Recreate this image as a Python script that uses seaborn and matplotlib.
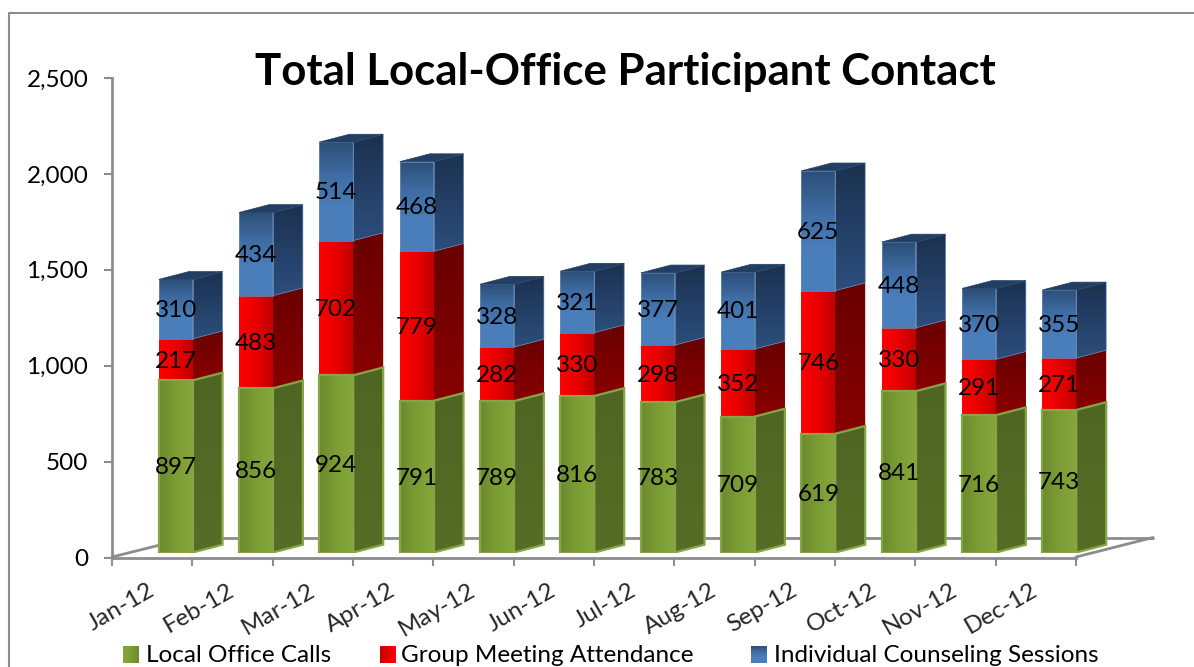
import numpy as np
import matplotlib
matplotlib.use('Agg')
import matplotlib.pyplot as plt
from matplotlib.colors import to_rgb
from matplotlib.lines import Line2D
from matplotlib.patches import Polygon, Rectangle
from matplotlib.transforms import ScaledTranslation
import seaborn as sns

months = ['Jan-12', 'Feb-12', 'Mar-12', 'Apr-12', 'May-12', 'Jun-12',
          'Jul-12', 'Aug-12', 'Sep-12', 'Oct-12', 'Nov-12', 'Dec-12']
calls = [897, 856, 924, 791, 789, 816, 783, 709, 619, 841, 716, 743]
meetings = [217, 483, 702, 779, 282, 330, 298, 352, 746, 330, 291, 271]
counseling = [310, 434, 514, 468, 328, 321, 377, 401, 625, 448, 370, 355]
series_names = ['Local Office Calls', 'Group Meeting Attendance', 'Individual Counseling Sessions']
yticks = [0, 500, 1000, 1500, 2000, 2500]

W, H = 1194, 667
GREY = '#8c8c8c'

sns.set_style('white')
plt.rcParams['font.family'] = ['Lato', 'DejaVu Sans']

fig = plt.figure(figsize=(W / 100, H / 100), dpi=100)


def px_box(x0, y0, x1, y1):
    # pixel box, y from the top of the picture
    return [x0 / W, 1 - y1 / H, (x1 - x0) / W, (y1 - y0) / H]


ax = fig.add_axes(px_box(112, 78, 1076, 557.5), zorder=0)
ax.set_xlim(-0.5, 11.5)
ax.set_ylim(0, 2500)
sns.despine(ax=ax)
for s in ['left', 'bottom']:
    ax.spines[s].set_color(GREY)
    ax.spines[s].set_linewidth(2)
ax.set_yticks(yticks)
ax.set_yticklabels([f'{v:,}' for v in yticks], fontsize=17.5, color='black')
ax.tick_params(axis='y', length=6, width=1.5, color=GREY, pad=11, left=True)
ax.set_xticks(np.arange(-0.5, 12, 1))
ax.set_xticklabels([])
ax.tick_params(axis='x', which='major', length=6, width=1.5, color=GREY, bottom=True)
ax.set_xticks(np.arange(12), minor=True)
ax.set_xticklabels(months, minor=True, rotation=30, ha='right', va='top',
                   rotation_mode='anchor', fontsize=17.5)
ax.tick_params(axis='x', which='minor', length=0, pad=16)
shift = ScaledTranslation(-5 / 100, 0, fig.dpi_scale_trans)
for lab in ax.get_xticklabels(minor=True):
    lab.set_transform(lab.get_transform() + shift)

# floor of the 3d box
for pts in [[(112, 557), (190, 537.5)], [(190, 537.5), (1153, 537.5)], [(1076, 557), (1153, 537.5)]]:
    xs, ys = zip(*pts)
    fig.add_artist(Line2D([x / W for x in xs], [1 - y / H for y in ys], color=GREY, lw=2, zorder=1))

# outer chart border, runs off the picture on the right and at the bottom
fig.add_artist(Line2D([8.5 / W, 8.5 / W, 1], [0, 1 - 13 / H, 1 - 13 / H], color=GREY, lw=1.5))

# bars sit in their own axes, moved back into the 3d box
# one spare category on the right so the last side face is not clipped
bar_ax = fig.add_axes(px_box(135.5, 73, 1099.5 + 964 / 12, 552.5), zorder=2)
bar_ax.patch.set_alpha(0)
bottoms = np.zeros(12)
segments = []
styles = [
    {'color': '#7c9f38', 'edge': '#85a546', 'lw': 1.6, 'front': ['#6b8a2f', '#7c9c34', '#84a83c'],
     'horizontal': True, 'side': ['#4f6623', '#556d26']},
    {'color': '#e00000', 'edge': None, 'lw': 0, 'front': ['#ff0000', '#e80000', '#c00000'],
     'horizontal': True, 'side': ['#6a0000', '#880000']},
    {'color': '#3f6da5', 'edge': '#6f8fb8', 'lw': 0.5, 'front': ['#2c4f78', '#3f6ca3', '#4a7ebb', '#4a7ebb'],
     'horizontal': False, 'side': ['#1b3150', '#2c4e7c']},
]
for vals, st in zip([calls, meetings, counseling], styles):
    n = len(bar_ax.patches)
    sns.barplot(x=months, y=vals, bottom=bottoms, color=st['color'], width=0.42, saturation=1,
                ax=bar_ax, zorder=2)
    segments.append((bar_ax.patches[n:], st))
    bottoms = bottoms + np.array(vals)
bar_ax.axis('off')

DX = 30 / (964 / 12)
DY = 7.8 / (479.5 / 2500)


def gradient(a, colors, extent, horizontal, clip, zorder):
    stops = np.array([to_rgb(c) for c in colors])
    t = np.linspace(0, len(colors) - 1, 64)
    rgb = np.stack([np.interp(t, np.arange(len(colors)), stops[:, i]) for i in range(3)], axis=-1)
    img = rgb[np.newaxis, :, :] if horizontal else rgb[:, np.newaxis, :]
    im = a.imshow(img, extent=extent, origin='upper', aspect='auto', zorder=zorder, interpolation='bilinear')
    im.set_clip_path(clip)


for patches, st in segments:
    for bar in patches:
        x0, w = bar.get_x(), bar.get_width()
        y0, h = bar.get_y(), bar.get_height()
        x1, y1 = x0 + w, y0 + h
        corners = [(x1, y0), (x1 + DX, y0 + DY), (x1 + DX, y1 + DY), (x1, y1)]
        side = Polygon(corners, facecolor=st['side'][-1], edgecolor='none', zorder=3)
        bar_ax.add_patch(side)
        gradient(bar_ax, st['side'], (x1, x1 + DX, y0, y1 + DY), False, side, 3.1)
        rect = Rectangle((x0, y0), w, h, facecolor='none', edgecolor='none', zorder=3)
        bar_ax.add_patch(rect)
        gradient(bar_ax, st['front'], (x0, x1, y0, y1), st['horizontal'], rect, 3.2)
        if st['edge']:
            bar_ax.add_patch(Polygon(corners, facecolor='none', edgecolor=st['edge'], lw=st['lw'], zorder=3.3))
            bar_ax.add_patch(Rectangle((x0, y0), w, h, facecolor='none', edgecolor=st['edge'], lw=st['lw'], zorder=3.4))

# lid of the top segment
for bar in segments[-1][0]:
    x0, x1, y1 = bar.get_x(), bar.get_x() + bar.get_width(), bar.get_y() + bar.get_height()
    bar_ax.add_patch(Polygon([(x0, y1), (x0 + DX, y1 + DY), (x1 + DX, y1 + DY), (x1, y1)],
                             facecolor='#223f63', edgecolor='#223f63', lw=0.5, zorder=3.5))
bar_ax.set_xlim(-0.5, 12.5)
bar_ax.set_ylim(0, 2500)

# data labels, centred on the front faces
for patches, st in segments:
    for bar in patches:
        bar_ax.annotate(f'{bar.get_height():.0f}',
                        (bar.get_x() + bar.get_width() / 2, bar.get_y() + bar.get_height() / 2),
                        xytext=(0, -1), textcoords='offset points',
                        ha='center', va='center', fontsize=17.5, color='black', zorder=5)

fig.text(625.5 / W, 1 - 72 / H, 'Total Local-Office Participant Contact', ha='center', va='center',
         fontsize=31.5, fontweight='bold', color='black')

# legend along the bottom edge
legend_x = [(123, 146), (380, 401), (751, 774)]
for name, (sx, tx), st in zip(series_names, legend_x, styles):
    sw = fig.add_axes(px_box(sx, 646, sx + 16, 663), zorder=3)
    stops = st['front'] if not st['horizontal'] else st['front'][::-1]
    gradient(sw, stops, (0, 1, 0, 1), st['horizontal'], None, 1)
    sw.set_xticks([])
    sw.set_yticks([])
    for s in sw.spines.values():
        s.set_visible(False)
    fig.text(tx / W, 1 - 655 / H, name, ha='left', va='center', fontsize=17.5, color='black')

fig.savefig('out.png', dpi=100)
